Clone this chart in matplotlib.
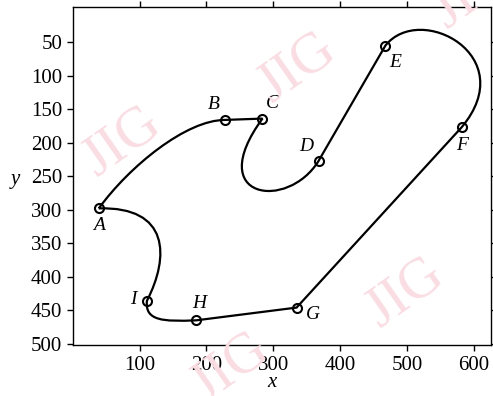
import matplotlib
matplotlib.use("Agg")
import matplotlib.pyplot as plt
from matplotlib.path import Path
from matplotlib.patches import PathPatch
import numpy as np

# Labelled points
labels = ["A", "B", "C", "D", "E", "F", "G", "H", "I"]
px = [39, 228, 284, 368, 468, 582, 335, 185, 111]
py = [298, 166, 164, 227, 55, 177, 446, 465, 436]

# Path segments: 'L' = straight line, 'C' = cubic bezier
seg_kinds = ["C", "L", "C", "L", "C", "L", "L", "C", "C"]
# control points for cubic segments (P1, P2) in data coords
ctrl_AB = [(85, 235), (170, 166)]
ctrl_CD = [(195, 285), (322, 302)]
ctrl_EF = [(520, -10), (672, 70)]
ctrl_HI = [(135, 467), (108, 466)]
ctrl_IA = [(145, 370), (145, 295)]
ctrls = [ctrl_AB, None, ctrl_CD, None, ctrl_EF, None, None, ctrl_HI, ctrl_IA]

# label offsets (points)
lab_off = [(0, -12), (-8, 11), (7, 11), (-9, 10), (7, -12), (0, -13), (12, -5), (2, 12), (-10, 1)]

xticks = [100, 200, 300, 400, 500, 600]
yticks = [50, 100, 150, 200, 250, 300, 350, 400, 450, 500]

fig = plt.figure(figsize=(4.93, 3.96), dpi=100)
ax = fig.add_axes([0.1475, 0.1285, 0.8485, 0.853])
ax.patch.set_alpha(0)

# watermarks
for (wx, wy) in [(122, 142), (297, 68), (472, -6), (405, 293), (230, 368)]:
    fig.text(wx / 493, 1 - wy / 396, "JIG", fontsize=41, family="Liberation Serif",
             color="#f9dde3", rotation=35, ha="center", va="center", zorder=0)

verts = [(px[0], py[0])]
codes = [Path.MOVETO]
n = len(px)
for i in range(n):
    j = (i + 1) % n
    if seg_kinds[i] == "L":
        verts.append((px[j], py[j]))
        codes.append(Path.LINETO)
    else:
        verts += [ctrls[i][0], ctrls[i][1], (px[j], py[j])]
        codes += [Path.CURVE4] * 3
path = Path(verts, codes)
ax.add_patch(PathPatch(path, facecolor="none", edgecolor="black", lw=1.6, zorder=3))

ax.plot(px, py, "o", ms=6.5, mfc="none", mec="black", mew=1.5, zorder=4)
for lab, x, y, off in zip(labels, px, py, lab_off):
    ax.annotate(lab, (x, y), xytext=off, textcoords="offset points", ha="center", va="center",
                fontsize=14, family="Liberation Serif", style="italic")

ax.set_xlim(0, 626)
ax.set_ylim(502, -2)
ax.set_xticks(xticks)
ax.set_yticks(yticks)
ax.tick_params(direction="out", length=4, width=1, labelsize=15, top=True, right=True,
               labeltop=False, labelright=False)
for t in ax.get_xticklabels() + ax.get_yticklabels():
    t.set_family("Liberation Serif")
ax.set_xlabel("x", fontsize=15, family="Liberation Serif", style="italic")
ax.set_ylabel("y", fontsize=15, family="Liberation Serif", style="italic", rotation=0)
ax.yaxis.label.set_va("center")
ax.xaxis.label.set_va("center")
ax.yaxis.set_label_coords(-0.138, 0.49)
ax.xaxis.set_label_coords(0.477, -0.112)
for s in ax.spines.values():
    s.set_linewidth(1.0)

fig.savefig("out.png", dpi=100)
